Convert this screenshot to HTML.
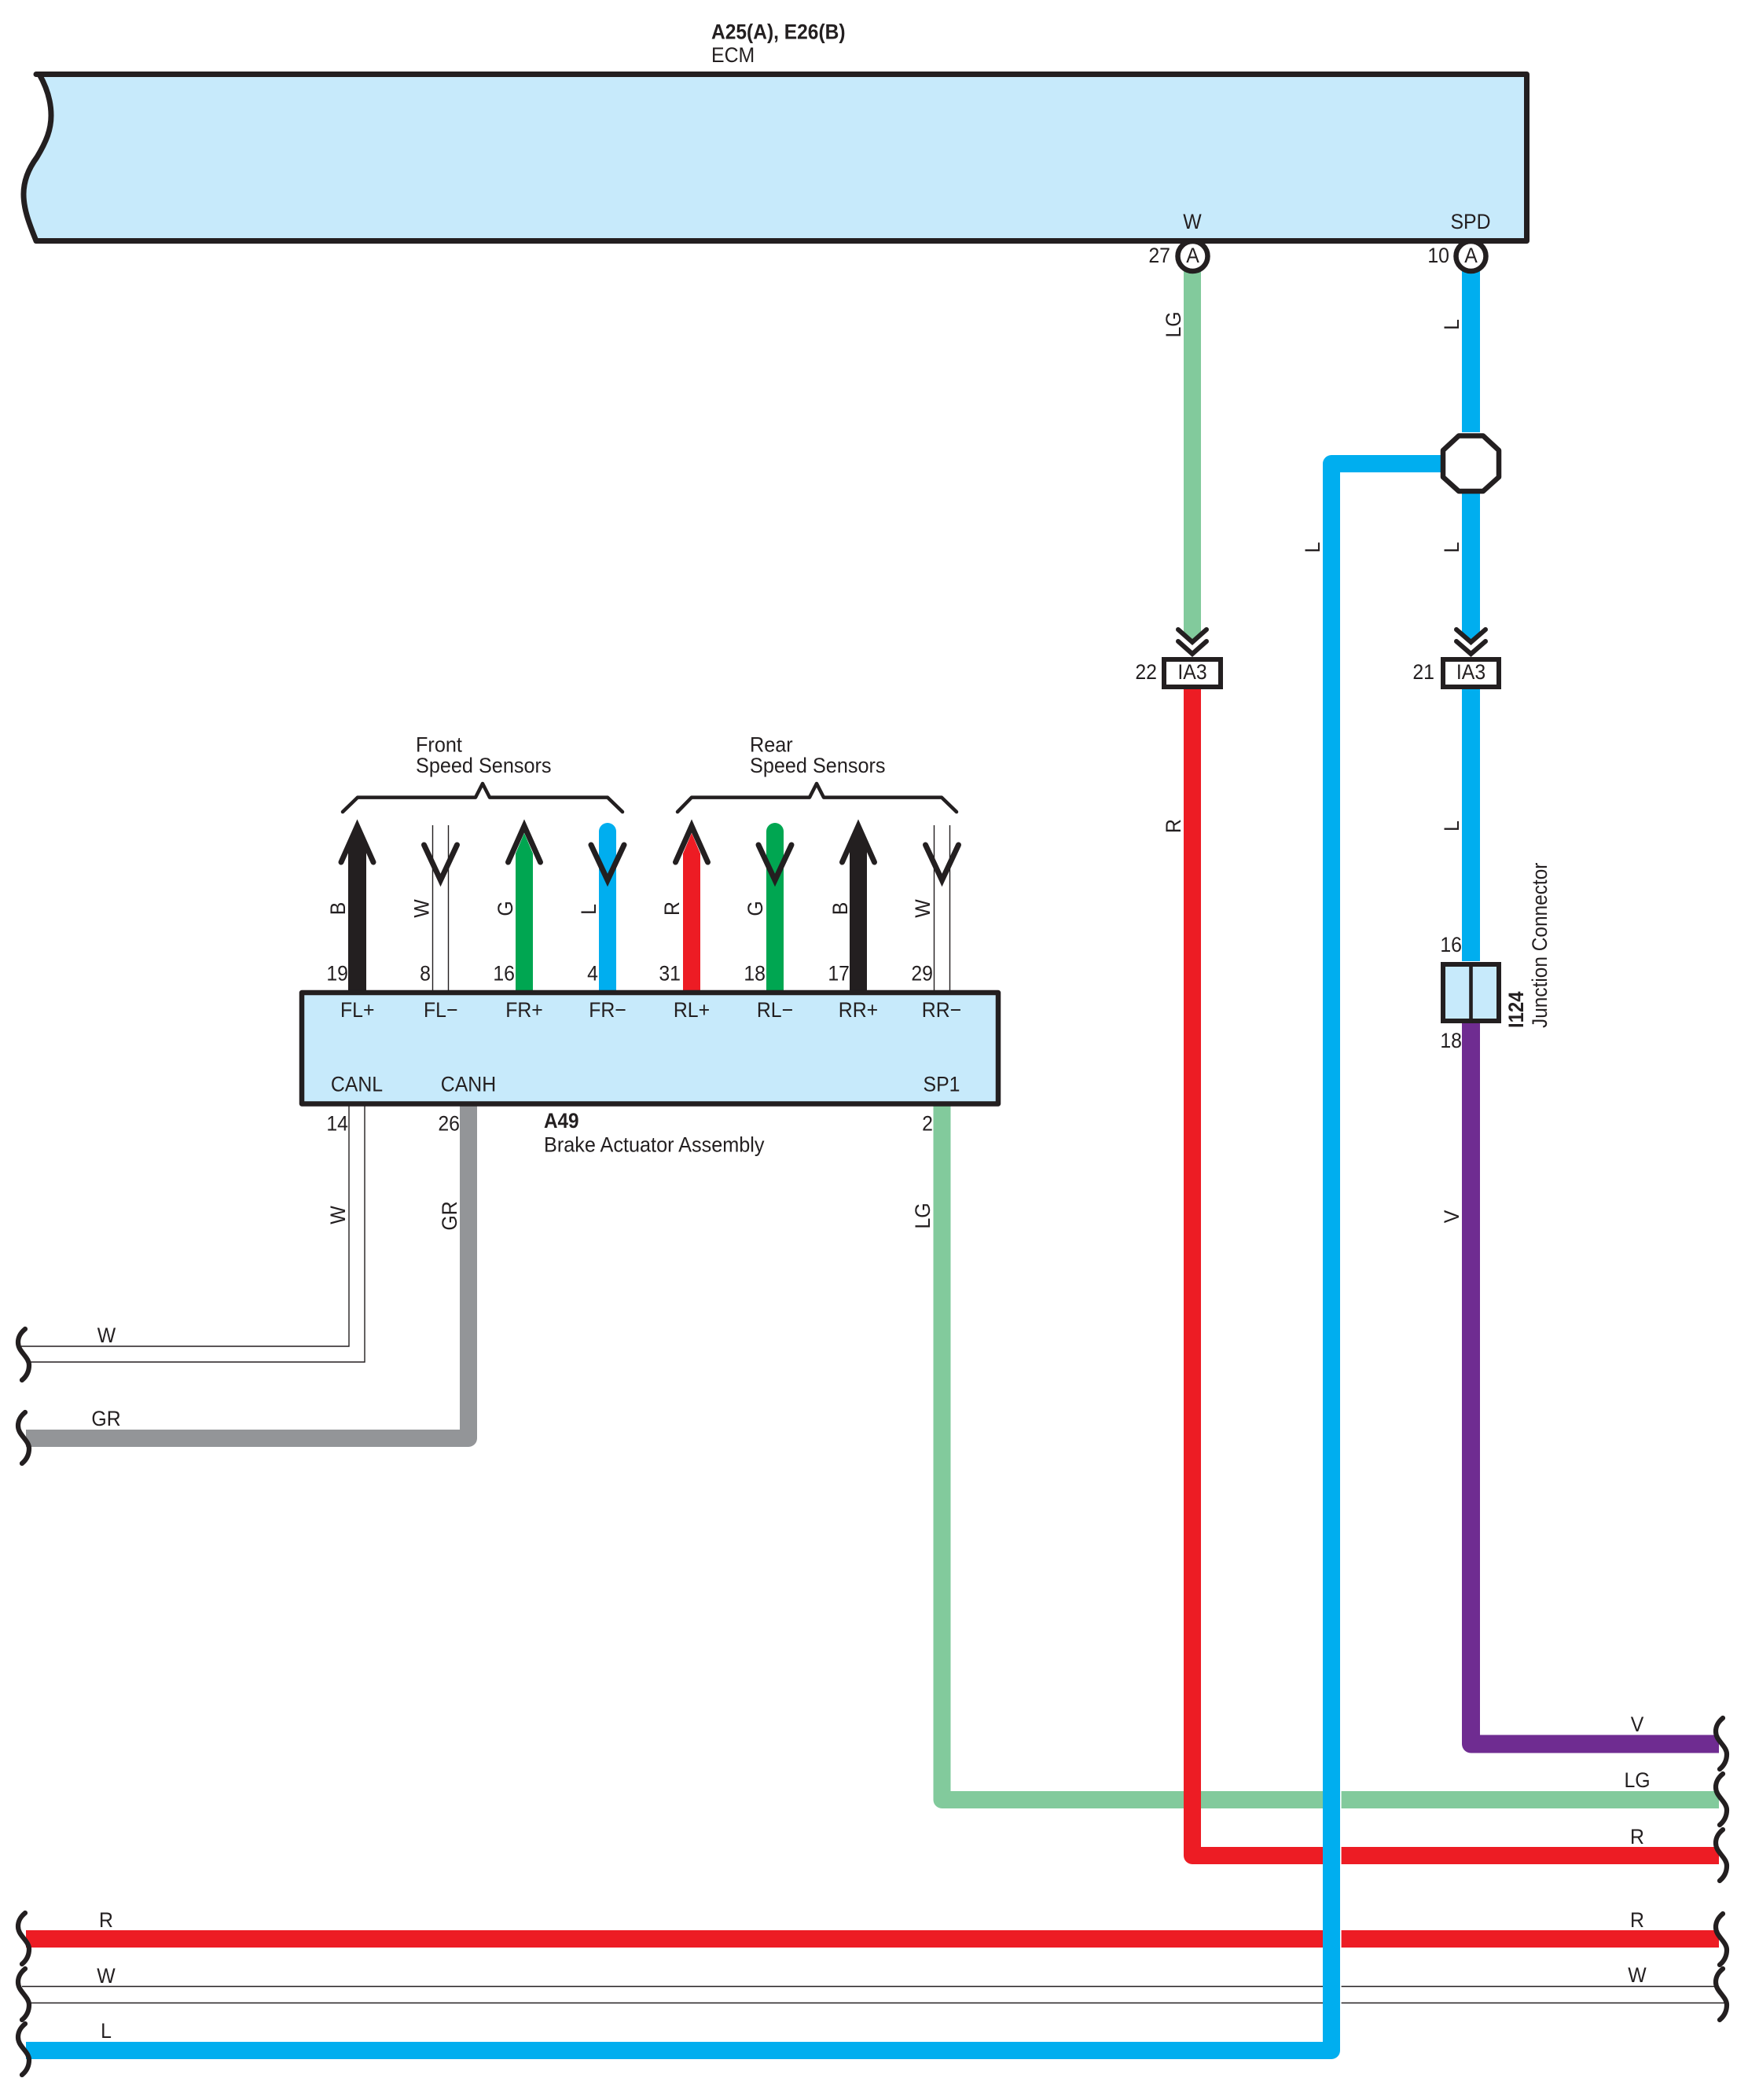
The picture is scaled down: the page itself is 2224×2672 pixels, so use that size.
<!DOCTYPE html>
<html>
<head>
<meta charset="utf-8">
<style>
html,body{margin:0;padding:0;background:#fff;}
svg{display:block;}
text{font-family:"Liberation Sans",sans-serif;font-size:27px;fill:#231f20;}
.m{text-anchor:middle;}
.e{text-anchor:end;}
.b{font-weight:bold;}
.w{fill:none;stroke-linejoin:round;stroke-width:22;}
.t{fill:none;stroke:#231f20;stroke-width:1.4;}
.k{fill:none;stroke:#231f20;stroke-width:7;stroke-linecap:round;stroke-linejoin:miter;}
.br{fill:none;stroke:#231f20;stroke-width:6.2;stroke-linecap:round;}
</style>
</head>
<body>
<svg width="2224" height="2672" viewBox="0 0 2224 2672" xmlns="http://www.w3.org/2000/svg">
<rect width="2224" height="2672" fill="#fff"/>

<!-- ECM -->
<path d="M46,94.5 H1942.5 V306.5 H46 C36,282 30,265 30,247 C30,230 36,215 47,200 C59,180 65,165 65,147 C65,130 60,112 50,94.5 Z" fill="#c7eafb" stroke="#231f20" stroke-width="7" stroke-linejoin="round"/>
<text transform="translate(905,49.5) scale(.91,1)" class="b">A25(A), E26(B)</text>
<text transform="translate(905,79) scale(.92,1)">ECM</text>
<text transform="translate(1517,291) scale(.92,1)" class="m">W</text>
<text transform="translate(1871,291) scale(.92,1)" class="m">SPD</text>

<!-- Upper right wires -->
<path d="M1506,345 H1528 V808 L1517,820 L1506,808 Z" fill="#82ca9c"/>
<rect x="1860" y="345" width="23" height="205" fill="#00aeef"/>
<path d="M1860,625 H1883 V808 L1871.5,820 L1860,808 Z" fill="#00aeef"/>
<rect x="1860" y="877" width="23" height="346" fill="#00aeef"/>

<!-- Lower wires -->
<path class="w" stroke="#82ca9c" d="M1198.5,1405 V2290 H2187"/>
<path class="w" stroke="#ed1c24" d="M1517,877 V2361 H2187"/>
<path class="w" stroke="#6f2c91" style="stroke-width:23" d="M1871.5,1302 V2219 H2187"/>
<path class="w" stroke="#ed1c24" d="M33,2467 H2187"/>
<path class="t" d="M28,2527.5 H2186"/>
<path class="t" d="M36,2548.5 H2194"/>
<path class="t" d="M27,1713 H444 V1405"/>
<path class="t" d="M36,1733 H464 V1405"/>
<path class="w" stroke="#939598" d="M33,1830 H596 V1405"/>

<!-- White halo on right of blue wire -->
<rect x="1705" y="2270" width="1.6" height="290" fill="#fff"/>
<!-- Long blue wire -->
<path class="w" stroke="#00aeef" d="M33,2609 H1694 V590 H1840"/>

<!-- Splice octagon -->
<path d="M1856,554.5 H1887 L1907,573 V607 L1887,625 H1856 L1836,607 V573 Z" fill="#fff" stroke="#231f20" stroke-width="6.5" stroke-linejoin="round"/>

<!-- Pin circles -->
<circle cx="1517.5" cy="326" r="19" fill="#fff" stroke="#231f20" stroke-width="6.5"/>
<circle cx="1871.5" cy="326" r="19" fill="#fff" stroke="#231f20" stroke-width="6.5"/>
<text transform="translate(1517.5,334) scale(.92,1)" class="m">A</text>
<text transform="translate(1871.5,334) scale(.92,1)" class="m">A</text>
<text transform="translate(1489,334) scale(.92,1)" class="e">27</text>
<text transform="translate(1844,334) scale(.92,1)" class="e">10</text>

<!-- Chevrons -->
<path class="k" style="stroke-width:6" d="M1499,801 L1517,817 L1535,801"/>
<path class="k" style="stroke-width:6" d="M1499,816 L1517,832 L1535,816"/>
<path class="k" style="stroke-width:6" d="M1853,801 L1871.5,817 L1890,801"/>
<path class="k" style="stroke-width:6" d="M1853,816 L1871.5,832 L1890,816"/>

<!-- IA3 boxes -->
<rect x="1481" y="839" width="72" height="35" fill="#fff" stroke="#231f20" stroke-width="6"/>
<rect x="1836" y="839" width="71" height="35" fill="#fff" stroke="#231f20" stroke-width="6"/>
<text transform="translate(1517,864) scale(.92,1)" class="m">IA3</text>
<text transform="translate(1871.5,864) scale(.92,1)" class="m">IA3</text>
<text transform="translate(1472,864) scale(.92,1)" class="e">22</text>
<text transform="translate(1825,864) scale(.92,1)" class="e">21</text>

<!-- Junction connector -->
<rect x="1836" y="1227" width="71" height="72" fill="#c7eafb" stroke="#231f20" stroke-width="6"/>
<rect x="1869.2" y="1224" width="4.6" height="78" fill="#231f20"/>
<text transform="translate(1860,1211) scale(.92,1)" class="e">16</text>
<text transform="translate(1860,1333) scale(.92,1)" class="e">18</text>
<text transform="translate(1938,1308) rotate(-90) scale(.885,1)" class="b">I124</text>
<text transform="translate(1968,1308) rotate(-90) scale(.905,1)">Junction Connector</text>

<!-- Sensor wires -->
<path d="M443,1082 L454.5,1052 L466,1082 V1263 H443 Z" fill="#231f20"/>
<path d="M656,1086 L667,1060 L678,1086 V1260 H656 Z" fill="#00a651"/>
<path d="M762,1058 A11,11 0 0 1 784,1058 V1260 H762 Z" fill="#00aeef"/>
<path d="M869,1086 L880,1060 L891,1086 V1260 H869 Z" fill="#ed1c24"/>
<path d="M975,1058 A11,11 0 0 1 997,1058 V1260 H975 Z" fill="#00a651"/>
<path d="M1081,1082 L1092,1052 L1103,1082 V1263 H1081 Z" fill="#231f20"/>
<path class="t" d="M550.5,1050 V1261"/>
<path class="t" d="M570.5,1050 V1261"/>
<path class="t" d="M1188.5,1050 V1261"/>
<path class="t" d="M1208.5,1050 V1261"/>

<!-- Arrows up -->
<path class="k" d="M434,1097 L454.5,1051 L475,1097"/>
<path class="k" d="M646.5,1097 L667,1051 L687.5,1097"/>
<path class="k" d="M859.5,1097 L880,1051 L900.5,1097"/>
<path class="k" d="M1071.5,1097 L1092,1051 L1112.5,1097"/>
<!-- Arrows down -->
<path class="k" d="M539.5,1075 L560.5,1120 L581.5,1075"/>
<path class="k" d="M752,1075 L773,1120 L794,1075"/>
<path class="k" d="M965,1075 L986,1120 L1007,1075"/>
<path class="k" d="M1177.5,1075 L1198.5,1120 L1219.5,1075"/>

<!-- Braces -->
<path d="M436,1033 L455,1014.6 H605 L614,997 L623,1014.6 H773 L792,1033" fill="none" stroke="#231f20" stroke-width="4.5" stroke-linejoin="round" stroke-linecap="round"/>
<path d="M862,1033 L880,1014.6 H1030 L1039,997 L1048,1014.6 H1198 L1217,1033" fill="none" stroke="#231f20" stroke-width="4.5" stroke-linejoin="round" stroke-linecap="round"/>
<text transform="translate(529,956.5) scale(.935,1)">Front</text>
<text transform="translate(529,983) scale(.935,1)">Speed Sensors</text>
<text transform="translate(954,956.5) scale(.935,1)">Rear</text>
<text transform="translate(954,983) scale(.935,1)">Speed Sensors</text>

<!-- Brake Actuator -->
<rect x="384" y="1263" width="886" height="141.5" fill="#c7eafb" stroke="#231f20" stroke-width="6.5" stroke-linejoin="round"/>
<text transform="translate(454.7,1294) scale(.92,1)" class="m">FL+</text>
<text transform="translate(560.7,1294) scale(.92,1)" class="m">FL−</text>
<text transform="translate(667,1294) scale(.92,1)" class="m">FR+</text>
<text transform="translate(773,1294) scale(.92,1)" class="m">FR−</text>
<text transform="translate(880,1294) scale(.92,1)" class="m">RL+</text>
<text transform="translate(986,1294) scale(.92,1)" class="m">RL−</text>
<text transform="translate(1092,1294) scale(.92,1)" class="m">RR+</text>
<text transform="translate(1198,1294) scale(.92,1)" class="m">RR−</text>
<text transform="translate(454,1388.5) scale(.92,1)" class="m">CANL</text>
<text transform="translate(596,1388.5) scale(.92,1)" class="m">CANH</text>
<text transform="translate(1198,1388.5) scale(.92,1)" class="m">SP1</text>

<text transform="translate(443,1247.5) scale(.92,1)" class="e">19</text>
<text transform="translate(548,1247.5) scale(.92,1)" class="e">8</text>
<text transform="translate(655,1247.5) scale(.92,1)" class="e">16</text>
<text transform="translate(761,1247.5) scale(.92,1)" class="e">4</text>
<text transform="translate(866,1247.5) scale(.92,1)" class="e">31</text>
<text transform="translate(974,1247.5) scale(.92,1)" class="e">18</text>
<text transform="translate(1081,1247.5) scale(.92,1)" class="e">17</text>
<text transform="translate(1187,1247.5) scale(.92,1)" class="e">29</text>

<text transform="translate(443,1438.5) scale(.92,1)" class="e">14</text>
<text transform="translate(585,1438.5) scale(.92,1)" class="e">26</text>
<text transform="translate(1187,1438.5) scale(.92,1)" class="e">2</text>
<text transform="translate(692,1435) scale(.9,1)" class="b">A49</text>
<text transform="translate(692,1465.5) scale(.935,1)">Brake Actuator Assembly</text>

<!-- Rotated wire labels -->
<text transform="translate(1502,413) rotate(-90) scale(.92,1)" class="m">LG</text>
<text transform="translate(1856,413) rotate(-90) scale(.92,1)" class="m">L</text>
<text transform="translate(1679,696.5) rotate(-90) scale(.92,1)" class="m">L</text>
<text transform="translate(1856,696.5) rotate(-90) scale(.92,1)" class="m">L</text>
<text transform="translate(1502,1051) rotate(-90) scale(.92,1)" class="m">R</text>
<text transform="translate(1856,1051) rotate(-90) scale(.92,1)" class="m">L</text>
<text transform="translate(439,1156) rotate(-90) scale(.92,1)" class="m">B</text>
<text transform="translate(545.7,1156) rotate(-90) scale(.92,1)" class="m">W</text>
<text transform="translate(652,1156) rotate(-90) scale(.92,1)" class="m">G</text>
<text transform="translate(758,1157) rotate(-90) scale(.92,1)" class="m">L</text>
<text transform="translate(864,1156) rotate(-90) scale(.92,1)" class="m">R</text>
<text transform="translate(970,1156) rotate(-90) scale(.92,1)" class="m">G</text>
<text transform="translate(1078,1156) rotate(-90) scale(.92,1)" class="m">B</text>
<text transform="translate(1183,1156) rotate(-90) scale(.92,1)" class="m">W</text>
<text transform="translate(439,1546) rotate(-90) scale(.92,1)" class="m">W</text>
<text transform="translate(581,1547) rotate(-90) scale(.92,1)" class="m">GR</text>
<text transform="translate(1183,1547) rotate(-90) scale(.92,1)" class="m">LG</text>
<text transform="translate(1856,1548) rotate(-90) scale(.92,1)" class="m">V</text>

<!-- Horizontal wire labels -->
<text transform="translate(135.5,1708) scale(.92,1)" class="m">W</text>
<text transform="translate(135,1814) scale(.92,1)" class="m">GR</text>
<text transform="translate(135,2452) scale(.92,1)" class="m">R</text>
<text transform="translate(135,2523) scale(.92,1)" class="m">W</text>
<text transform="translate(135,2593) scale(.92,1)" class="m">L</text>
<text transform="translate(2083,2203) scale(.92,1)" class="m">V</text>
<text transform="translate(2083,2274) scale(.92,1)" class="m">LG</text>
<text transform="translate(2083,2346) scale(.92,1)" class="m">R</text>
<text transform="translate(2083,2452) scale(.92,1)" class="m">R</text>
<text transform="translate(2083,2522) scale(.92,1)" class="m">W</text>

<!-- Break marks -->
<path class="br" d="M32,1691 c-6,5 -9,10 -9,17 c0,6 3,10 7,15 c4,5 7,9 7,14 c0,8 -3,14 -9,19"/>
<path class="br" d="M32,1797 c-6,5 -9,10 -9,17 c0,6 3,10 7,15 c4,5 7,9 7,14 c0,8 -3,14 -9,19"/>
<path class="br" d="M32,2434 c-6,5 -9,10 -9,17 c0,6 3,10 7,15 c4,5 7,9 7,14 c0,8 -3,14 -9,19"/>
<path class="br" d="M32,2505 c-6,5 -9,10 -9,17 c0,6 3,10 7,15 c4,5 7,9 7,14 c0,8 -3,14 -9,19"/>
<path class="br" d="M32,2575 c-6,5 -9,10 -9,17 c0,6 3,10 7,15 c4,5 7,9 7,14 c0,8 -3,14 -9,19"/>
<path class="br" d="M2192,2186 c-6,5 -9,10 -9,17 c0,6 3,10 7,15 c4,5 7,9 7,14 c0,8 -3,14 -9,19"/>
<path class="br" d="M2192,2257 c-6,5 -9,10 -9,17 c0,6 3,10 7,15 c4,5 7,9 7,14 c0,8 -3,14 -9,19"/>
<path class="br" d="M2192,2328 c-6,5 -9,10 -9,17 c0,6 3,10 7,15 c4,5 7,9 7,14 c0,8 -3,14 -9,19"/>
<path class="br" d="M2192,2435 c-6,5 -9,10 -9,17 c0,6 3,10 7,15 c4,5 7,9 7,14 c0,8 -3,14 -9,19"/>
<path class="br" d="M2192,2505 c-6,5 -9,10 -9,17 c0,6 3,10 7,15 c4,5 7,9 7,14 c0,8 -3,14 -9,19"/>
</svg>
</body>
</html>
